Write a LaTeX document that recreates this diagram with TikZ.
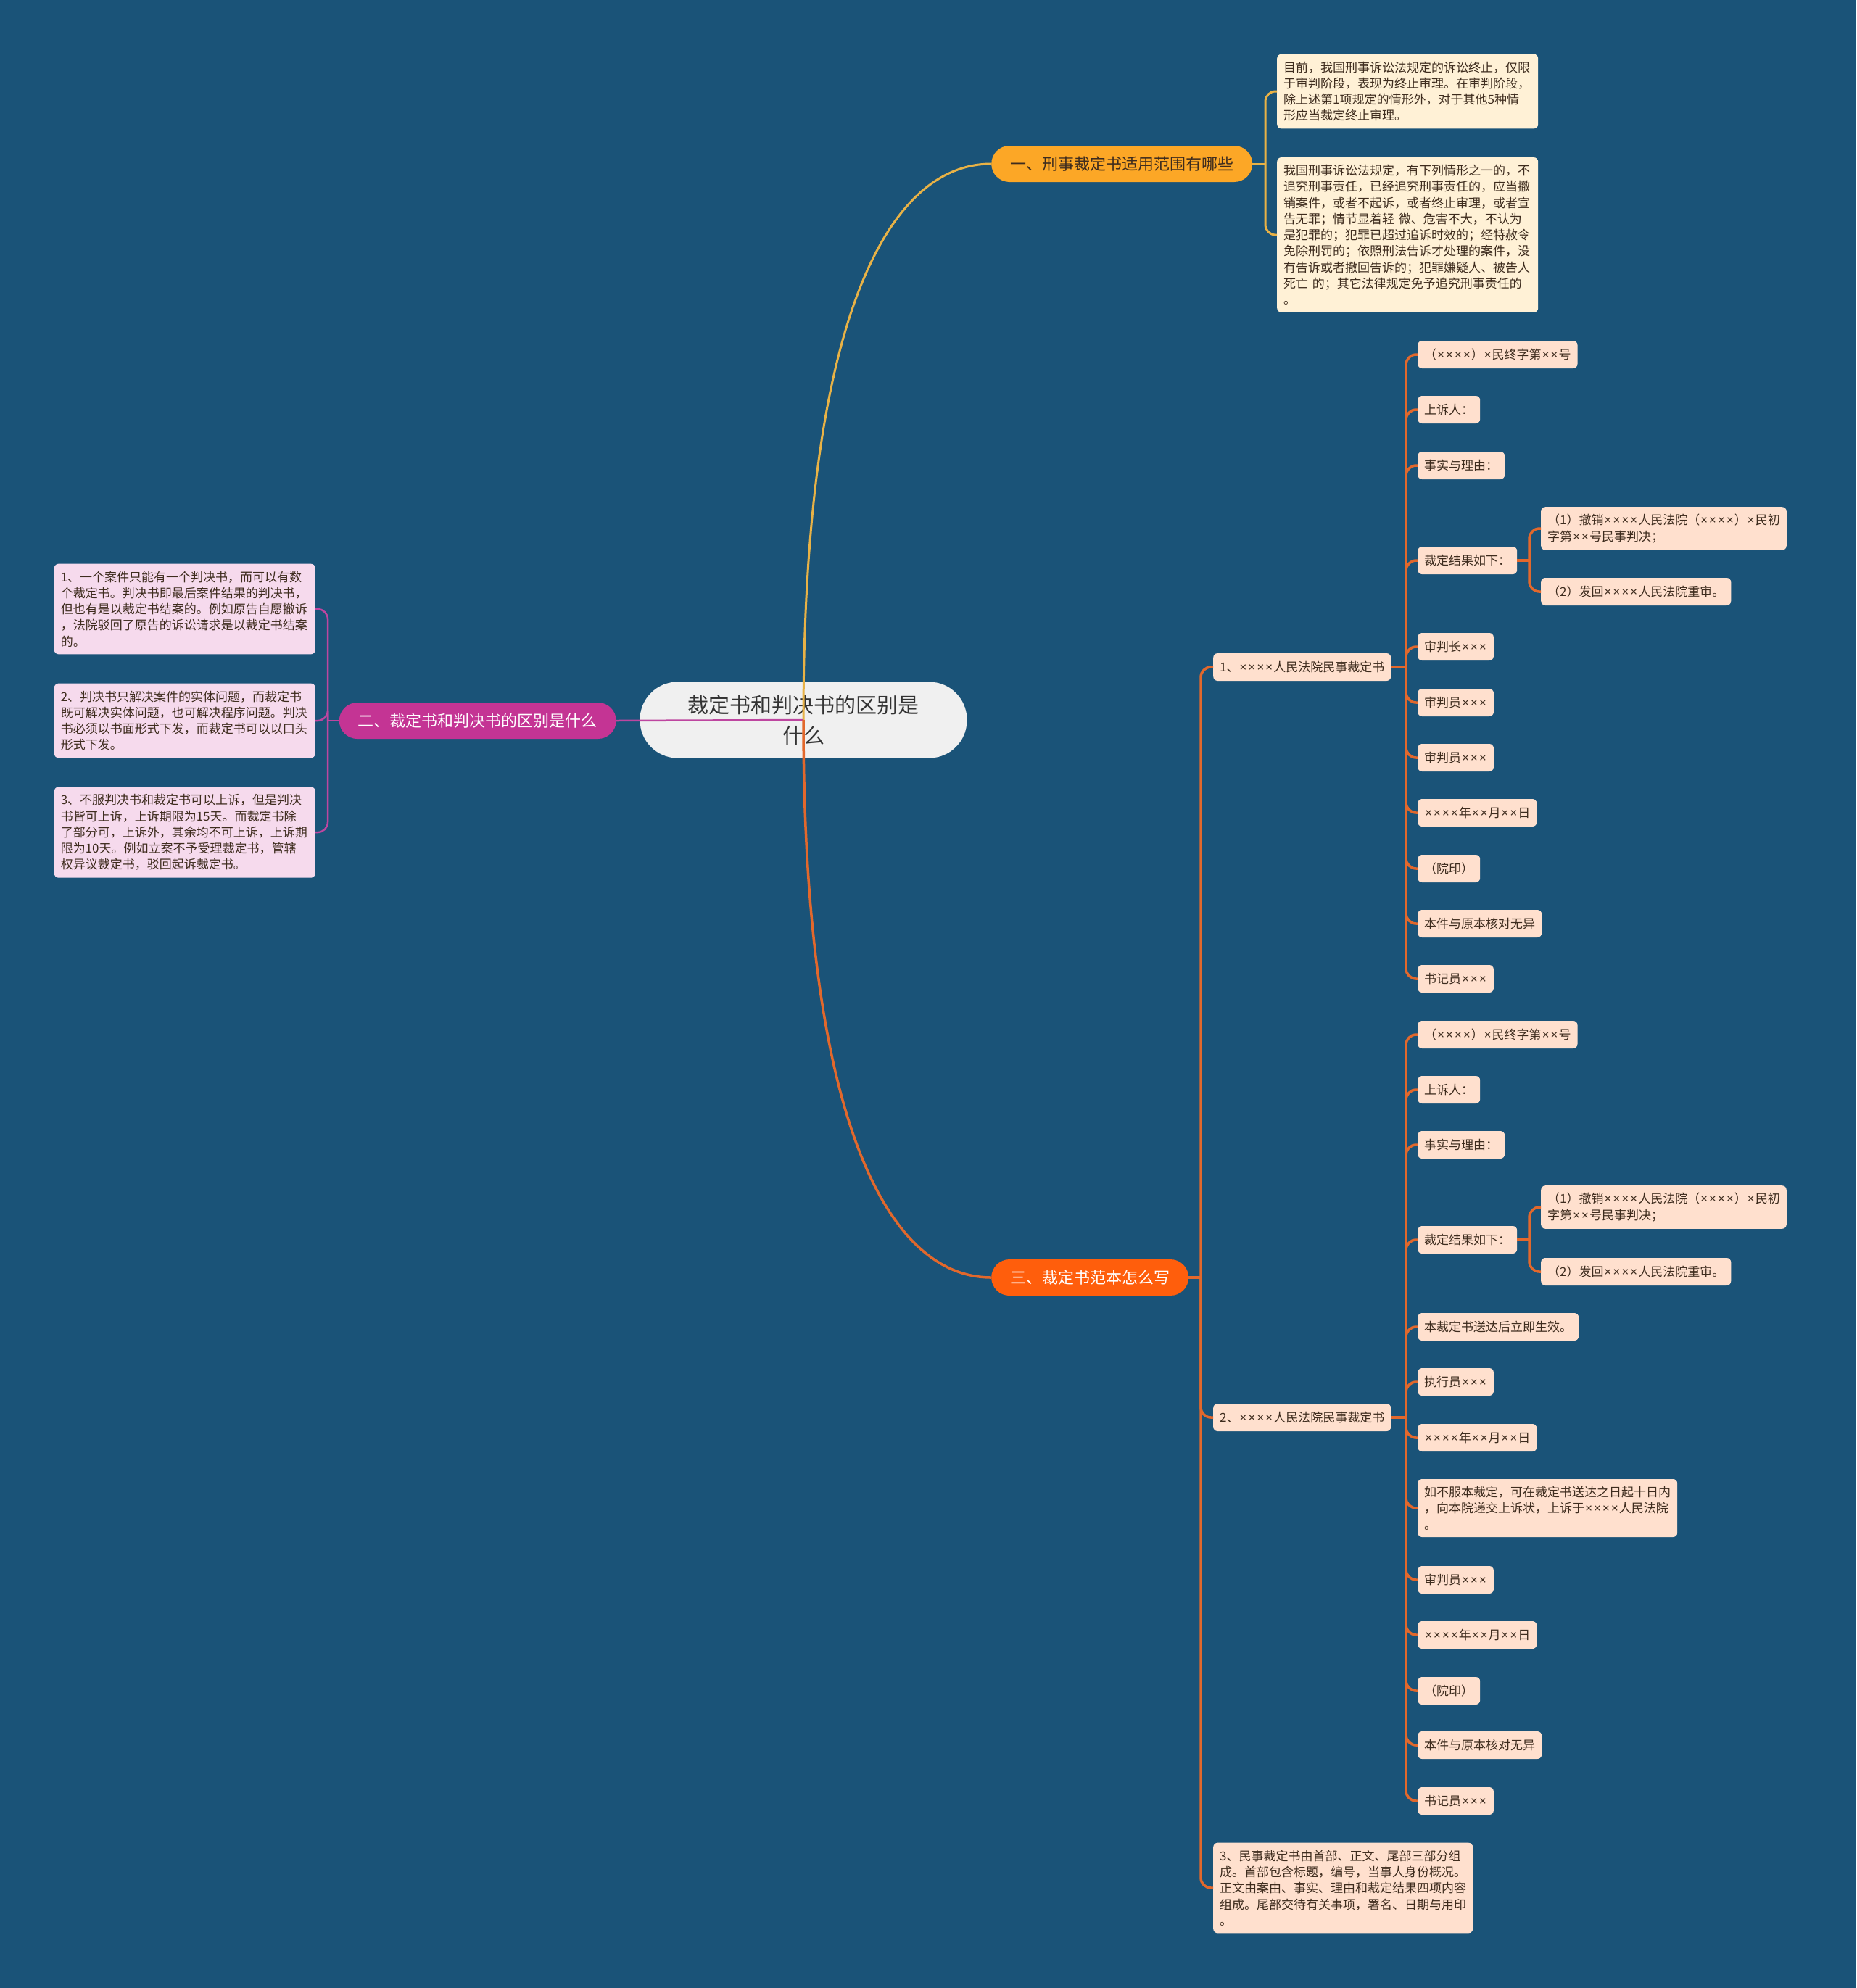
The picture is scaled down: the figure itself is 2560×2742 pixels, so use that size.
\documentclass[tikz,border=0pt]{standalone}
\usepackage{fontspec}
\setmainfont{Noto Sans CJK SC}
\newfontfamily\symfont{Noto Sans}
\newcommand{\tms}{\hbox to 0.7em{\hss{\symfont ×}\hss}}
\usetikzlibrary{calc}
\usetikzlibrary{positioning}
\definecolor{bgblue}{RGB}{26,83,120}
\definecolor{themefill}{RGB}{240,240,240}
\definecolor{themeink}{RGB}{51,51,51}
\definecolor{yfill}{RGB}{252,167,38}
\definecolor{yline}{RGB}{232,178,70}
\definecolor{ynote}{RGB}{255,241,214}
\definecolor{mfill}{RGB}{196,52,148}
\definecolor{mline}{RGB}{190,70,160}
\definecolor{mnote}{RGB}{246,218,237}
\definecolor{ofill}{RGB}{255,94,12}
\definecolor{oline}{RGB}{226,104,44}
\definecolor{onote}{RGB}{255,224,206}
\definecolor{noteink}{RGB}{62,44,30}
\tikzstyle{theme} = [rectangle, rounded corners=52, fill=themefill, text=themeink, minimum width=451, minimum height=105, align=center, font=\fontsize{29}{42}\selectfont]
\tikzstyle{topic} = [rectangle, rounded corners=25, minimum height=50, inner xsep=26, font=\fontsize{22}{26}\selectfont]
\tikzstyle{topicy} = [topic, fill=yfill, text=noteink]
\tikzstyle{topicm} = [topic, fill=mfill, text=white]
\tikzstyle{topico} = [topic, fill=ofill, text=white]
\tikzstyle{note} = [rectangle, rounded corners=6, minimum height=38, inner xsep=9, inner ysep=10, align=left, text=noteink, font=\fontsize{17}{22.3}\selectfont]
\tikzstyle{notey} = [note, fill=ynote, text width=342]
\tikzstyle{notem} = [note, fill=mnote, text width=342]
\tikzstyle{noteo} = [note, fill=onote]
\tikzstyle{liney} = [draw=yline, line width=3]
\tikzstyle{linem} = [draw=mline, line width=2.5]
\tikzstyle{lineo} = [draw=oline, line width=3.5]

\begin{document}
\begin{tikzpicture}[x=1pt,y=-1pt]

		\fill[bgblue] (0,0) rectangle (2560,2742);
		\useasboundingbox (0,0) rectangle (2560,2742);

		\node [theme] (T) at (1108,993) {裁定书和判决书的区别是\\什么};
		\node [topicy, anchor=west] (A) at (1367,226) {一、刑事裁定书适用范围有哪些};
		\node [topicm, anchor=east] (B) at (850,994) {二、裁定书和判决书的区别是什么};
		\node [topico, anchor=west] (C) at (1367,1762) {三、裁定书范本怎么写};

		% branch one
		\node [notey, anchor=west] (A1) at (1761,126) {目前，我国刑事诉讼法规定的诉讼终止，仅限\\于审判阶段，表现为终止审理。在审判阶段，\\除上述第1项规定的情形外，对于其他5种情\\形应当裁定终止审理。};
		\node [notey, anchor=west] (A2) at (1761,324) {我国刑事诉讼法规定，有下列情形之一的，不\\追究刑事责任，已经追究刑事责任的，应当撤\\销案件，或者不起诉，或者终止审理，或者宣\\告无罪；情节显着轻 微、危害不大，不认为\\是犯罪的；犯罪已超过追诉时效的；经特赦令\\免除刑罚的；依照刑法告诉才处理的案件，没\\有告诉或者撤回告诉的；犯罪嫌疑人、被告人\\死亡 的；其它法律规定免予追究刑事责任的\\。};

		% branch two
		\node [notem, anchor=east] (B1) at (435,840) {1、一个案件只能有一个判决书，而可以有数\\个裁定书。判决书即最后案件结果的判决书，\\但也有是以裁定书结案的。例如原告自愿撤诉\\，法院驳回了原告的诉讼请求是以裁定书结案\\的。};
		\node [notem, anchor=east] (B2) at (435,994) {2、判决书只解决案件的实体问题，而裁定书\\既可解决实体问题，也可解决程序问题。判决\\书必须以书面形式下发，而裁定书可以以口头\\形式下发。};
		\node [notem, anchor=east] (B3) at (435,1148) {3、不服判决书和裁定书可以上诉，但是判决\\书皆可上诉，上诉期限为15天。而裁定书除\\了部分可，上诉外，其余均不可上诉，上诉期\\限为10天。例如立案不予受理裁定书，管辖\\权异议裁定书，驳回起诉裁定书。};

		% branch three
		\node [noteo, anchor=west] (C1) at (1673,920) {1、\tms\tms\tms\tms 人民法院民事裁定书};
		\node [noteo, anchor=west] (C2) at (1673,1955) {2、\tms\tms\tms\tms 人民法院民事裁定书};
		\node [noteo, anchor=west] (C3) at (1673,2604) {3、民事裁定书由首部、正文、尾部三部分组\\成。首部包含标题，编号，当事人身份概况。\\正文由案由、事实、理由和裁定结果四项内容\\组成。尾部交待有关事项，署名、日期与用印\\。};

		\node [noteo, anchor=west] (D1) at (1955,489) {（\tms\tms\tms\tms）\tms 民终字第\tms\tms 号};
		\node [noteo, anchor=west] (D2) at (1955,565) {上诉人：};
		\node [noteo, anchor=west] (D3) at (1955,642) {事实与理由：};
		\node [noteo, anchor=west] (D4) at (1955,773) {裁定结果如下：};
		\node [noteo, anchor=west] (D41) at (2125,729) {（1）撤销\tms\tms\tms\tms 人民法院（\tms\tms\tms\tms）\tms 民初\\字第\tms\tms 号民事判决；};
		\node [noteo, anchor=west] (D42) at (2125,816) {（2）发回\tms\tms\tms\tms 人民法院重审。};
		\node [noteo, anchor=west] (D5) at (1955,892) {审判长\tms\tms\tms};
		\node [noteo, anchor=west] (D6) at (1955,969) {审判员\tms\tms\tms};
		\node [noteo, anchor=west] (D7) at (1955,1045) {审判员\tms\tms\tms};
		\node [noteo, anchor=west] (D8) at (1955,1121) {\tms\tms\tms\tms 年\tms\tms 月\tms\tms 日};
		\node [noteo, anchor=west] (D9) at (1955,1198) {（院印）};
		\node [noteo, anchor=west] (D10) at (1955,1274) {本件与原本核对无异};
		\node [noteo, anchor=west] (D11) at (1955,1350) {书记员\tms\tms\tms};

		\node [noteo, anchor=west] (E1) at (1955,1427) {（\tms\tms\tms\tms）\tms 民终字第\tms\tms 号};
		\node [noteo, anchor=west] (E2) at (1955,1503) {上诉人：};
		\node [noteo, anchor=west] (E3) at (1955,1579) {事实与理由：};
		\node [noteo, anchor=west] (E4) at (1955,1710) {裁定结果如下：};
		\node [noteo, anchor=west] (E41) at (2125,1665) {（1）撤销\tms\tms\tms\tms 人民法院（\tms\tms\tms\tms）\tms 民初\\字第\tms\tms 号民事判决；};
		\node [noteo, anchor=west] (E42) at (2125,1754) {（2）发回\tms\tms\tms\tms 人民法院重审。};
		\node [noteo, anchor=west] (E5) at (1955,1830) {本裁定书送达后立即生效。};
		\node [noteo, anchor=west] (E6) at (1955,1906) {执行员\tms\tms\tms};
		\node [noteo, anchor=west] (E7) at (1955,1983) {\tms\tms\tms\tms 年\tms\tms 月\tms\tms 日};
		\node [noteo, anchor=west] (E8) at (1955,2080) {如不服本裁定，可在裁定书送达之日起十日内\\，向本院递交上诉状，上诉于\tms\tms\tms\tms 人民法院\\。};
		\node [noteo, anchor=west] (E9) at (1955,2179) {审判员\tms\tms\tms};
		\node [noteo, anchor=west] (E10) at (1955,2255) {\tms\tms\tms\tms 年\tms\tms 月\tms\tms 日};
		\node [noteo, anchor=west] (E11) at (1955,2332) {（院印）};
		\node [noteo, anchor=west] (E12) at (1955,2407) {本件与原本核对无异};
		\node [noteo, anchor=west] (E13) at (1955,2484) {书记员\tms\tms\tms};

		% connections
		\coordinate (jA) at (1745,226);
		\coordinate (jB) at (452,994);
		\coordinate (jC) at (1656,1762);
		\coordinate (jC1) at (1939,920);
		\coordinate (jC2) at (1939,1955);
		\coordinate (jD4) at (2109,773);
		\coordinate (jE4) at (2109,1710);

		\draw[liney] (T.center) .. controls +(0,-560) and +(-140,0) .. (A.west);
		\draw[linem] (T.center) -- (B.east);
		\draw[lineo] (T.center) .. controls +(0,560) and +(-140,0) .. (C.west);

		\draw[liney] (A.east) -- (jA);
		\draw[liney, rounded corners=14] (jA) |- (A1.west);
		\draw[liney, rounded corners=14] (jA) |- (A2.west);

		\draw[linem] (B.west) -- (jB);
		\draw[linem, rounded corners=14] (jB) |- (B1.east);
		\draw[linem, rounded corners=14] (jB) |- (B2.east);
		\draw[linem, rounded corners=14] (jB) |- (B3.east);

		\draw[lineo] (C.east) -- (jC);
		\draw[lineo, rounded corners=14] (jC) |- (C1.west);
		\draw[lineo, rounded corners=14] (jC) |- (C2.west);
		\draw[lineo, rounded corners=14] (jC) |- (C3.west);

		\draw[lineo] (C1.east) -- (jC1);
		\draw[lineo, rounded corners=14] (jC1) |- (D1.west);
		\draw[lineo, rounded corners=14] (jC1) |- (D2.west);
		\draw[lineo, rounded corners=14] (jC1) |- (D3.west);
		\draw[lineo, rounded corners=14] (jC1) |- (D4.west);
		\draw[lineo, rounded corners=14] (jC1) |- (D5.west);
		\draw[lineo, rounded corners=14] (jC1) |- (D6.west);
		\draw[lineo, rounded corners=14] (jC1) |- (D7.west);
		\draw[lineo, rounded corners=14] (jC1) |- (D8.west);
		\draw[lineo, rounded corners=14] (jC1) |- (D9.west);
		\draw[lineo, rounded corners=14] (jC1) |- (D10.west);
		\draw[lineo, rounded corners=14] (jC1) |- (D11.west);
		\draw[lineo] (D4.east) -- (jD4);
		\draw[lineo, rounded corners=14] (jD4) |- (D41.west);
		\draw[lineo, rounded corners=14] (jD4) |- (D42.west);

		\draw[lineo] (C2.east) -- (jC2);
		\draw[lineo, rounded corners=14] (jC2) |- (E1.west);
		\draw[lineo, rounded corners=14] (jC2) |- (E2.west);
		\draw[lineo, rounded corners=14] (jC2) |- (E3.west);
		\draw[lineo, rounded corners=14] (jC2) |- (E4.west);
		\draw[lineo, rounded corners=14] (jC2) |- (E5.west);
		\draw[lineo, rounded corners=14] (jC2) |- (E6.west);
		\draw[lineo, rounded corners=14] (jC2) |- (E7.west);
		\draw[lineo, rounded corners=14] (jC2) |- (E8.west);
		\draw[lineo, rounded corners=14] (jC2) |- (E9.west);
		\draw[lineo, rounded corners=14] (jC2) |- (E10.west);
		\draw[lineo, rounded corners=14] (jC2) |- (E11.west);
		\draw[lineo, rounded corners=14] (jC2) |- (E12.west);
		\draw[lineo, rounded corners=14] (jC2) |- (E13.west);
		\draw[lineo] (E4.east) -- (jE4);
		\draw[lineo, rounded corners=14] (jE4) |- (E41.west);
		\draw[lineo, rounded corners=14] (jE4) |- (E42.west);

	\end{tikzpicture}
\end{document}
